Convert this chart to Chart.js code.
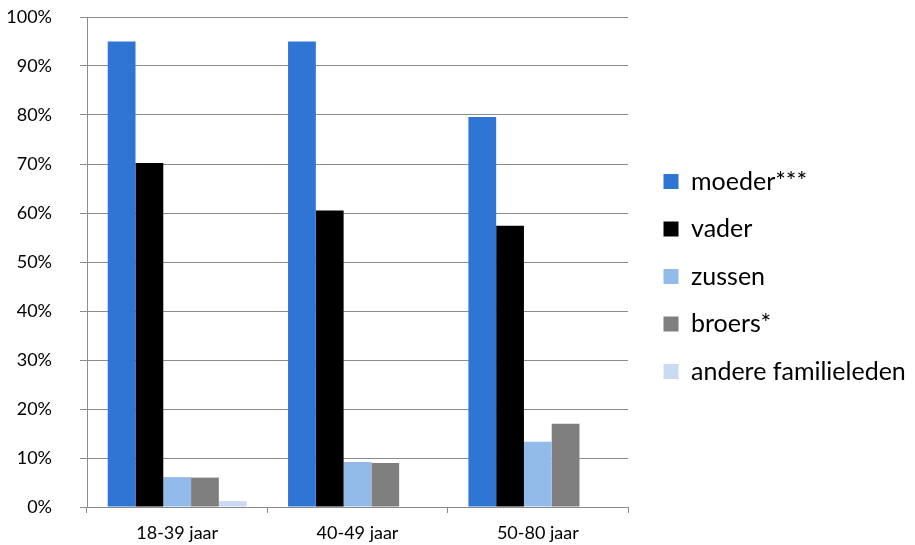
<!DOCTYPE html>
<html>
<head>
<meta charset="utf-8">
<script src="https://cdn.jsdelivr.net/npm/chart.js@4"></script>
<style>
  html, body { margin: 0; padding: 0; background: #fff; }
  #wrap { width: 915px; height: 545px; position: relative; }
</style>
</head>
<body>
<div id="wrap"><canvas id="c" width="915" height="545"></canvas></div>
<script>
const categories = ['18-39 jaar', '40-49 jaar', '50-80 jaar'];
const seriesNames = ['moeder***', 'vader', 'zussen', 'broers*', 'andere familieleden'];
const moeder = [95, 95, 79.6];
const vader = [70.2, 60.5, 57.4];
const zussen = [6.1, 9.2, 13.3];
const broers = [6.0, 9.0, 17.0];
const andere = [1.2, 0, 0];
const seriesColors = ['#2F75D3', '#000000', '#93BBE9', '#7F7F7F', '#C9DBF2'];

const FONT = 'Lato, "Open Sans", sans-serif';
const GRID = '#8C8C8C';

// Wider legend column, with its items pushed away from the plot
const legendSpacing = {
  id: 'legendSpacing',
  beforeInit(chart) {
    const fit = chart.legend.fit;
    chart.legend.fit = function () {
      fit.call(this);
      this.width = 287;
    };
  },
  afterLayout(chart) {
    chart.legend.left += 13;
    chart.legend.top += 8;
  }
};

new Chart(document.getElementById('c'), {
  type: 'bar',
  data: {
    labels: categories,
    datasets: [moeder, vader, zussen, broers, andere].map((vals, i) => ({
      label: seriesNames[i],
      data: vals,
      backgroundColor: seriesColors[i],
      borderWidth: 0,
      categoryPercentage: 0.77,
      barPercentage: 1.0
    }))
  },
  options: {
    responsive: false,
    animation: false,
    layout: { padding: 0 },
    plugins: {
      legend: {
        position: 'right',
        labels: {
          font: { family: FONT, size: 25 },
          color: '#000',
          boxWidth: 15,
          boxHeight: 15,
          padding: 22.5
        }
      },
      tooltip: { enabled: false }
    },
    scales: {
      x: {
        grid: { drawOnChartArea: false, color: GRID, tickLength: 6, offset: true },
        border: { color: GRID, width: 1 },
        ticks: { font: { family: FONT, size: 18 }, color: '#000', padding: 9 },
        afterFit(s) { s.height = 38; }
      },
      y: {
        min: 0,
        max: 100,
        grid: { color: GRID, tickLength: 7 },
        border: { color: GRID, width: 1 },
        ticks: {
          stepSize: 10,
          font: { family: FONT, size: 18 },
          color: '#000',
          padding: 28,
          callback: v => v + '%'
        },
        afterFit(s) {
          s.width = 87;
          s.paddingTop = 17;
          s.paddingBottom = 0;
        }
      }
    }
  },
  plugins: [legendSpacing]
});
</script>
</body>
</html>
